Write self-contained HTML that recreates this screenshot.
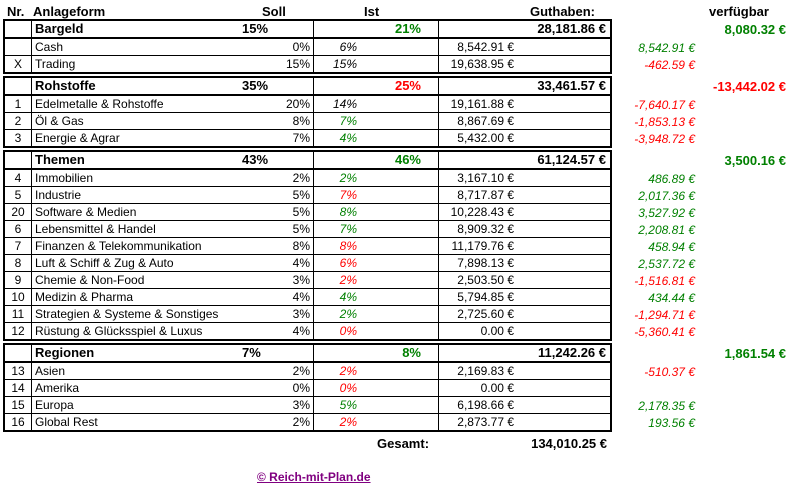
<!DOCTYPE html>
<html><head><meta charset="utf-8"><style>
body{margin:0;width:789px;height:490px;background:#fff;position:relative;font-family:"Liberation Sans",Tahoma,sans-serif;font-size:12px;color:#000;overflow:hidden}
.t{position:absolute;left:3px;border:2px solid #000;border-collapse:separate;border-spacing:0;width:609px;table-layout:fixed}
.t td{padding:0;height:16px;line-height:16px;border-right:1px solid #000;border-bottom:1px solid #000;white-space:nowrap;overflow:hidden}
.t td:last-child{border-right:none}
.t tr:last-child td{border-bottom:none}
.t tr.h td{border-bottom:2px solid #000;font-weight:bold;font-size:13px}
.n{text-align:center}
.nm{padding-left:3px!important}
.s{float:right;padding-right:3px}
.hs{position:absolute;left:240px}
.ist{text-align:right;padding-right:81px!important;font-style:italic}
.hist{text-align:right;padding-right:17px!important}
.gut{text-align:right;padding-right:96px!important}
.hgut{text-align:right;padding-right:4px!important}
.g{color:#008000}.r{color:#ff0000}
.a{position:absolute;white-space:nowrap}
.v{position:absolute;right:94px;font-style:italic;line-height:16px}
.V{position:absolute;right:3px;font-weight:bold;font-size:13px;line-height:16px}
.lbl{position:absolute;font-weight:bold;font-size:13px;top:4px}
</style></head><body>
<div class="lbl" style="left:7px">Nr.</div>
<div class="lbl" style="left:33px">Anlageform</div>
<div class="lbl" style="left:262px">Soll</div>
<div class="lbl" style="left:364px">Ist</div>
<div class="lbl" style="left:530px">Guthaben:</div>
<div class="lbl" style="left:709px">verfügbar</div>

<table class="t" style="top:19px"><colgroup><col style="width:27px"><col style="width:282px"><col style="width:125px"><col></colgroup>
<tr class="h"><td></td><td class="nm" style="position:relative">Bargeld<span style="position:absolute;left:210px">15%</span></td><td class="hist g">21%</td><td class="hgut">28,181.86 €</td></tr>
<tr><td class="n"></td><td class="nm">Cash<span class="s">0%</span></td><td class="ist">6%</td><td class="gut">8,542.91 €</td></tr>
<tr><td class="n">X</td><td class="nm">Trading<span class="s">15%</span></td><td class="ist">15%</td><td class="gut">19,638.95 €</td></tr>
</table>

<table class="t" style="top:76px"><colgroup><col style="width:27px"><col style="width:282px"><col style="width:125px"><col></colgroup>
<tr class="h"><td></td><td class="nm" style="position:relative">Rohstoffe<span style="position:absolute;left:210px">35%</span></td><td class="hist r">25%</td><td class="hgut">33,461.57 €</td></tr>
<tr><td class="n">1</td><td class="nm">Edelmetalle &amp; Rohstoffe<span class="s">20%</span></td><td class="ist">14%</td><td class="gut">19,161.88 €</td></tr>
<tr><td class="n">2</td><td class="nm">Öl &amp; Gas<span class="s">8%</span></td><td class="ist g">7%</td><td class="gut">8,867.69 €</td></tr>
<tr><td class="n">3</td><td class="nm">Energie &amp; Agrar<span class="s">7%</span></td><td class="ist g">4%</td><td class="gut">5,432.00 €</td></tr>
</table>

<table class="t" style="top:150px"><colgroup><col style="width:27px"><col style="width:282px"><col style="width:125px"><col></colgroup>
<tr class="h"><td></td><td class="nm" style="position:relative">Themen<span style="position:absolute;left:210px">43%</span></td><td class="hist g">46%</td><td class="hgut">61,124.57 €</td></tr>
<tr><td class="n">4</td><td class="nm">Immobilien<span class="s">2%</span></td><td class="ist g">2%</td><td class="gut">3,167.10 €</td></tr>
<tr><td class="n">5</td><td class="nm">Industrie<span class="s">5%</span></td><td class="ist r">7%</td><td class="gut">8,717.87 €</td></tr>
<tr><td class="n">20</td><td class="nm">Software &amp; Medien<span class="s">5%</span></td><td class="ist g">8%</td><td class="gut">10,228.43 €</td></tr>
<tr><td class="n">6</td><td class="nm">Lebensmittel &amp; Handel<span class="s">5%</span></td><td class="ist g">7%</td><td class="gut">8,909.32 €</td></tr>
<tr><td class="n">7</td><td class="nm">Finanzen &amp; Telekommunikation<span class="s">8%</span></td><td class="ist r">8%</td><td class="gut">11,179.76 €</td></tr>
<tr><td class="n">8</td><td class="nm">Luft &amp; Schiff &amp; Zug &amp; Auto<span class="s">4%</span></td><td class="ist r">6%</td><td class="gut">7,898.13 €</td></tr>
<tr><td class="n">9</td><td class="nm">Chemie &amp; Non-Food<span class="s">3%</span></td><td class="ist r">2%</td><td class="gut">2,503.50 €</td></tr>
<tr><td class="n">10</td><td class="nm">Medizin &amp; Pharma<span class="s">4%</span></td><td class="ist g">4%</td><td class="gut">5,794.85 €</td></tr>
<tr><td class="n">11</td><td class="nm">Strategien &amp; Systeme &amp; Sonstiges<span class="s">3%</span></td><td class="ist g">2%</td><td class="gut">2,725.60 €</td></tr>
<tr><td class="n">12</td><td class="nm">Rüstung &amp; Glücksspiel &amp; Luxus<span class="s">4%</span></td><td class="ist r">0%</td><td class="gut">0.00 €</td></tr>
</table>

<table class="t" style="top:343px"><colgroup><col style="width:27px"><col style="width:282px"><col style="width:125px"><col></colgroup>
<tr class="h"><td></td><td class="nm" style="position:relative">Regionen<span style="position:absolute;left:210px">7%</span></td><td class="hist g">8%</td><td class="hgut">11,242.26 €</td></tr>
<tr><td class="n">13</td><td class="nm">Asien<span class="s">2%</span></td><td class="ist r">2%</td><td class="gut">2,169.83 €</td></tr>
<tr><td class="n">14</td><td class="nm">Amerika<span class="s">0%</span></td><td class="ist r">0%</td><td class="gut">0.00 €</td></tr>
<tr><td class="n">15</td><td class="nm">Europa<span class="s">3%</span></td><td class="ist g">5%</td><td class="gut">6,198.66 €</td></tr>
<tr><td class="n">16</td><td class="nm">Global Rest<span class="s">2%</span></td><td class="ist r">2%</td><td class="gut">2,873.77 €</td></tr>
</table>

<div class="V g" style="top:22px">8,080.32 €</div>
<div class="v g" style="top:40px">8,542.91 €</div>
<div class="v r" style="top:57px">-462.59 €</div>
<div class="V r" style="top:79px">-13,442.02 €</div>
<div class="v r" style="top:97px">-7,640.17 €</div>
<div class="v r" style="top:114px">-1,853.13 €</div>
<div class="v r" style="top:131px">-3,948.72 €</div>
<div class="V g" style="top:153px">3,500.16 €</div>
<div class="v g" style="top:171px">486.89 €</div>
<div class="v g" style="top:188px">2,017.36 €</div>
<div class="v g" style="top:205px">3,527.92 €</div>
<div class="v g" style="top:222px">2,208.81 €</div>
<div class="v g" style="top:239px">458.94 €</div>
<div class="v g" style="top:256px">2,537.72 €</div>
<div class="v r" style="top:273px">-1,516.81 €</div>
<div class="v g" style="top:290px">434.44 €</div>
<div class="v r" style="top:307px">-1,294.71 €</div>
<div class="v r" style="top:324px">-5,360.41 €</div>
<div class="V g" style="top:346px">1,861.54 €</div>
<div class="v r" style="top:364px">-510.37 €</div>
<div class="v g" style="top:398px">2,178.35 €</div>
<div class="v g" style="top:415px">193.56 €</div>

<div class="a" style="left:377px;top:436px;font-weight:bold;font-size:13px">Gesamt:</div>
<div class="a" style="right:182px;top:436px;font-weight:bold;font-size:13px">134,010.25 €</div>
<div class="a" style="left:257px;top:470px;font-weight:bold;font-size:12px;color:#800080;text-decoration:underline">© Reich-mit-Plan.de</div>
</body></html>
